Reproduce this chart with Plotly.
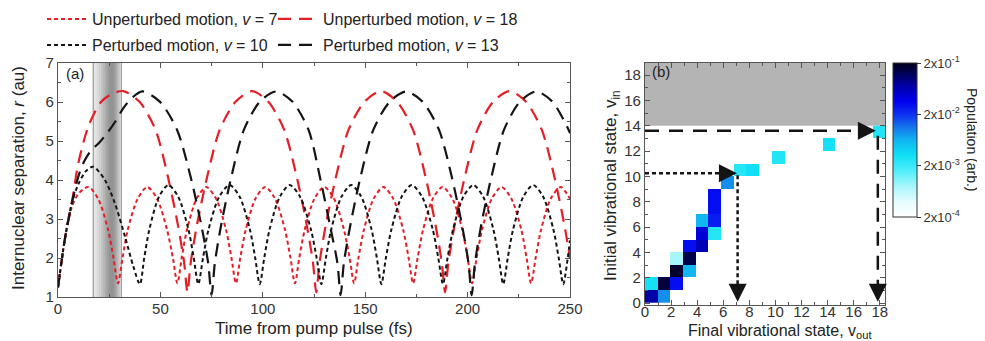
import math
import plotly.graph_objects as go

# ---------------- data: panel (a) ----------------
# Unperturbed motion, v = 7 (red short dashes)
u7_t = [0, 3.4, 6.7, 10, 14.8,
        19.6, 24.5, 27.1, 29.3, 31.5, 34.0, 38.9, 43.6,
        48.4, 53.3, 56.1, 58.3, 60.4, 62.9, 67.7, 72.4,
        77.2, 82.1, 84.7, 86.9, 89.0, 91.6, 96.4, 101.2,
        106.0, 110.9, 113.5, 115.7, 117.8, 120.4, 125.2, 130.0,
        134.8, 139.7, 142.4, 144.6, 146.7, 149.3, 154.1, 158.9,
        163.7, 168.6, 171.2, 173.4, 175.6, 178.2, 183.0, 187.8,
        192.6, 197.5, 200.0, 202.2, 204.4, 207.0, 211.8, 216.6,
        221.4, 226.3, 228.8, 231.0, 233.2, 235.8, 240.6, 245.4,
        250]
u7_r = [1.25, 2.5, 3.3, 3.65, 3.82,
        3.52, 2.71, 2.0, 1.35, 2.0, 2.71, 3.52, 3.82,
        3.52, 2.71, 2.0, 1.35, 2.0, 2.71, 3.52, 3.82,
        3.52, 2.71, 2.0, 1.35, 2.0, 2.71, 3.52, 3.82,
        3.52, 2.71, 2.0, 1.35, 2.0, 2.71, 3.52, 3.82,
        3.52, 2.71, 2.0, 1.35, 2.0, 2.71, 3.52, 3.82,
        3.52, 2.71, 2.0, 1.35, 2.0, 2.71, 3.52, 3.82,
        3.52, 2.71, 2.0, 1.35, 2.0, 2.71, 3.52, 3.82,
        3.52, 2.71, 2.0, 1.35, 2.0, 2.71, 3.52, 3.82,
        3.52]

# Unperturbed motion, v = 18 (red long dashes)
u18_t = [0, 3.4, 6.7, 10, 15, 21, 26, 31.9,
         39.7, 47.6, 53.8, 58.5, 61.6, 63.2,
         64.8, 67.9, 72.7, 79.0, 86.8, 94.7,
         102.6, 110.4, 116.7, 121.4, 124.5, 126.1,
         127.7, 130.8, 135.6, 141.9, 149.7, 157.6,
         165.5, 173.3, 179.6, 184.3, 187.4, 189.0,
         190.6, 193.7, 198.5, 204.8, 212.6, 220.5,
         228.4, 236.2, 242.5, 247.2, 250]
u18_r = [1.25, 2.5, 3.4, 4.45, 5.4, 6.0, 6.2, 6.28,
         6.01, 5.29, 4.05, 2.86, 1.88, 1.12,
         1.88, 2.86, 4.05, 5.29, 6.01, 6.28,
         6.01, 5.29, 4.05, 2.86, 1.88, 1.12,
         1.88, 2.86, 4.05, 5.29, 6.01, 6.28,
         6.01, 5.29, 4.05, 2.86, 1.88, 1.12,
         1.88, 2.86, 4.05, 5.29, 6.01, 6.28,
         6.01, 5.29, 4.05, 2.86, 2.0]

# Perturbed motion, v = 10 (black short dashes)
p10_t = [0, 3.4, 6.7, 10, 13.5, 17.2, 22.9, 27.8, 32.7, 36.8, 40,
         42.1, 44.6, 49.3, 53.9, 58.7, 63.7, 66.3, 68.5,
         70.8, 73.5, 78.7, 83.8, 88.7, 93.7, 96.3, 98.5,
         100.7, 103.3, 108.3, 113.1, 118.2, 123.5, 126.3, 128.6,
         130.8, 133.4, 138.4, 143.2, 148.1, 153.1, 155.7, 157.9,
         160.1, 162.8, 167.8, 172.7, 177.8, 183.0, 185.7, 188.0,
         190.2, 192.9, 197.9, 202.8, 207.6, 212.6, 215.2, 217.4,
         219.6, 222.2, 227.2, 232.0, 236.9, 241.9, 244.5, 246.7,
         248.9, 250]
p10_r = [1.25, 2.5, 3.4, 3.9, 4.22, 4.34, 4.0, 3.4, 2.55, 1.78, 1.33,
         2.0, 2.73, 3.57, 3.87, 3.57, 2.73, 2.0, 1.33,
         2.0, 2.73, 3.57, 3.87, 3.57, 2.73, 2.0, 1.33,
         2.0, 2.73, 3.57, 3.87, 3.57, 2.73, 2.0, 1.33,
         2.0, 2.73, 3.57, 3.87, 3.57, 2.73, 2.0, 1.33,
         2.0, 2.73, 3.57, 3.87, 3.57, 2.73, 2.0, 1.33,
         2.0, 2.73, 3.57, 3.87, 3.57, 2.73, 2.0, 1.33,
         2.0, 2.73, 3.57, 3.87, 3.57, 2.73, 2.0, 1.33,
         2.0, 2.45]

# Perturbed motion, v = 13 (black long dashes)
p13_t = [0, 3.4, 6.7, 10, 13, 16, 20, 24, 28, 32, 36, 41.2,
         49.7, 58.1, 64.9, 69.9, 73.3, 75.0,
         76.6, 79.7, 84.5, 90.8, 98.6, 106.5,
         114.4, 122.3, 128.0, 132.7, 136.4, 138.0,
         139.6, 142.8, 147.6, 154.0, 162.0, 170.0,
         178.0, 186.0, 192.4, 197.2, 200.4, 202.0,
         203.6, 206.7, 211.5, 217.8, 225.6, 233.5,
         241.4, 249.3, 250]
p13_r = [1.25, 2.5, 3.4, 4.1, 4.5, 4.75, 4.95, 5.2, 5.5, 5.85, 6.1, 6.27,
         6.01, 5.29, 4.05, 2.86, 1.88, 1.05,
         1.88, 2.86, 4.05, 5.29, 6.01, 6.27,
         6.01, 5.29, 4.05, 2.86, 1.88, 1.05,
         1.88, 2.86, 4.05, 5.29, 6.01, 6.27,
         6.01, 5.29, 4.05, 2.86, 1.88, 1.05,
         1.88, 2.86, 4.05, 5.29, 6.01, 6.27,
         6.01, 5.29, 5.2]

# ---------------- data: panel (b) ----------------
cell_vout = [0, 1, 0, 1, 2, 2, 2, 3, 3, 3, 4, 4, 4, 5, 5, 5, 5, 6, 7, 8, 10, 14, 18]
cell_vin = [0, 0, 1, 1, 1, 2, 3, 2, 3, 4, 4, 5, 6, 5, 6, 7, 8, 9, 10, 10, 11, 12, 13]
cell_pop = [7e-2, 9e-3, 3e-3, 1.5e-1, 3e-2, 1.7e-1, 8e-4, 6e-3, 1.4e-1, 3e-2,
            6e-2, 4.5e-2, 6e-3, 2.5e-3, 2.5e-2, 3e-2, 3e-2, 9e-3, 2.5e-3,
            3.2e-3, 2.6e-3, 3e-3, 2.6e-3]
cbar_vals = [2e-4, 2e-3, 2e-2, 2e-1]
cbar_text = ["2x10<sup>-4</sup>", "2x10<sup>-3</sup>", "2x10<sup>-2</sup>", "2x10<sup>-1</sup>"]

# ---------------- styling ----------------
W, H = 985, 341
OFF = 8          # page body margin of the html page
FONT = "Liberation Sans, Arial, sans-serif"
RED = "rgb(228,30,38)"
BLK = "rgb(20,20,20)"
AX = "#555555"
TXT = "#222222"
SHORT = "4px,3px"
LONG = "13px,8px"
X_CELL = 18.5 / 19.0   # cell width in axis units of panel (b)

def px_x(p):
    return (p - OFF) / W

def px_y(p):
    return 1 - (p - OFF) / H

fig = go.Figure()

fig.add_trace(go.Scatter(x=u7_t, y=u7_r, mode="lines", name="Unperturbed motion, <i>v</i> = 7",
                         line=dict(color=RED, width=2, dash=SHORT, shape="spline", smoothing=0.8),
                         legend="legend", xaxis="x", yaxis="y"))
fig.add_trace(go.Scatter(x=u18_t, y=u18_r, mode="lines", name="Unperturbed motion, <i>v</i> = 18",
                         line=dict(color=RED, width=2.2, dash=LONG, shape="spline", smoothing=0.8),
                         legend="legend2", xaxis="x", yaxis="y"))
fig.add_trace(go.Scatter(x=p10_t, y=p10_r, mode="lines", name="Perturbed motion, <i>v</i> = 10",
                         line=dict(color=BLK, width=2, dash=SHORT, shape="spline", smoothing=0.8),
                         legend="legend3", xaxis="x", yaxis="y"))
fig.add_trace(go.Scatter(x=p13_t, y=p13_r, mode="lines", name="Perturbed motion, <i>v</i> = 13",
                         line=dict(color=BLK, width=2.2, dash=LONG, shape="spline", smoothing=0.8),
                         legend="legend4", xaxis="x", yaxis="y"))

# heatmap matrix
n_in = max(cell_vin) + 1
n_out = max(cell_vout) + 1
z = [[None] * n_out for _ in range(n_in)]
for vo, vi, p in zip(cell_vout, cell_vin, cell_pop):
    z[vi][vo] = math.log10(p)
x_edges = [i * X_CELL for i in range(n_out + 1)]
y_edges = list(range(n_in + 1))

cscale = [[0.0, "#ffffff"], [0.1, "#e4fcfe"], [0.2, "#a8f6fc"], [0.3, "#50eefa"],
          [0.4, "#10e0f6"], [0.5, "#10b4f0"], [0.58, "#1478ec"], [0.66, "#1034f0"],
          [0.75, "#0000f0"], [0.85, "#0000a8"], [0.93, "#00005a"], [1.0, "#000018"]]

fig.add_trace(go.Heatmap(
    z=z, x=x_edges, y=y_edges, xaxis="x2", yaxis="y2",
    zmin=math.log10(cbar_vals[0]), zmax=math.log10(cbar_vals[-1]),
    colorscale=cscale, hoverongaps=False, showscale=True,
    colorbar=dict(xref="paper", yref="paper",
                  x=px_x(893), xanchor="left", y=px_y(63), yanchor="top",
                  len=154, lenmode="pixels", thickness=24, thicknessmode="pixels",
                  xpad=0, ypad=0, outlinewidth=1, outlinecolor="#333",
                  tickvals=[math.log10(v) for v in cbar_vals], ticktext=cbar_text,
                  ticks="outside", ticklen=4, tickcolor="#333",
                  tickfont=dict(family=FONT, size=13, color="#333"))))

shapes = []
# shaded pump-pulse band (gradient built from overlapping strips)
band_gray = [232, 226, 218, 208, 196, 182, 168, 156, 148, 146, 154, 170, 192, 212]
band_t0 = 17.0
for i, g in enumerate(band_gray):
    shapes.append(dict(type="rect", xref="x", yref="y", x0=band_t0 + i, x1=min(band_t0 + i + 1.6, 31),
                       y0=1, y1=7, fillcolor=f"rgb({g},{g},{g})", line=dict(width=0), layer="below"))
shapes.append(dict(type="line", xref="x", yref="y", x0=17.2, x1=17.2, y0=1, y1=7,
                   line=dict(color="#8a8a8a", width=1), layer="below"))
shapes.append(dict(type="line", xref="x", yref="y", x0=31, x1=31, y0=1, y1=7,
                   line=dict(color="#a0a0a0", width=1), layer="below"))
# grey region in panel (b)
shapes.append(dict(type="rect", xref="x2", yref="y2", x0=0, x1=18.4, y0=14, y1=18.95,
                   fillcolor="#b4b4b4", line=dict(width=0), layer="below"))
# arrows (shafts)
shapes.append(dict(type="line", xref="x2", yref="y2", x0=0, x1=6.2, y0=10.25, y1=10.25,
                   line=dict(color=BLK, width=2.5, dash=SHORT)))
shapes.append(dict(type="line", xref="x2", yref="y2", x0=7.1, x1=7.1, y0=10.1, y1=1.2,
                   line=dict(color=BLK, width=2.5, dash=SHORT)))
shapes.append(dict(type="line", xref="x2", yref="y2", x0=0, x1=16.4, y0=13.6, y1=13.6,
                   line=dict(color=BLK, width=2.5, dash="14px,10px")))
shapes.append(dict(type="line", xref="x2", yref="y2", x0=17.85, x1=17.85, y0=13.2, y1=1.4,
                   line=dict(color=BLK, width=2.5, dash="14px,10px")))

TITLE_FONT = dict(family=FONT, size=17, color=TXT)

def label(text, xp, yp, angle=0, font=TITLE_FONT):
    return dict(text=text, x=px_x(xp), y=px_y(yp), xref="paper", yref="paper",
                xanchor="center", yanchor="middle", textangle=angle, showarrow=False, font=font)

annotations = [
    dict(text="(a)", x=3, y=6.72, xref="x", yref="y", xanchor="left", yanchor="middle",
         showarrow=False, font=dict(family=FONT, size=15, color=TXT)),
    dict(text="(b)", x=0.35, y=18.3, xref="x2", yref="y2", xanchor="left", yanchor="middle",
         showarrow=False, font=dict(family=FONT, size=15, color=TXT)),
    label("Population (arb.)", 972, 140, 90, dict(family=FONT, size=14, color=TXT)),
    label("Time from pump pulse (fs)", 314, 328),
    label("Internuclear separation, <i>r</i> (au)", 18, 178, -90),
    label("Final vibrational state, v<sub>out</sub>", 780, 331, 0, dict(family=FONT, size=16, color=TXT)),
    label("Initial vibrational state, v<sub>in</sub>", 612, 186, -90),
]
for (xt, yt, xa, ya) in [(7.05, 10.25, 6.0, 10.25), (7.1, 0.1, 7.1, 1.4),
                         (17.7, 13.6, 16.3, 13.6), (17.85, 0.1, 17.85, 1.5)]:
    annotations.append(dict(x=xt, y=yt, ax=xa, ay=ya, xref="x2", yref="y2", axref="x2", ayref="y2",
                            text="", showarrow=True, arrowhead=2, arrowsize=1.8, arrowwidth=2,
                            arrowcolor=BLK, standoff=0, startstandoff=0))

axis_common = dict(showline=True, linecolor=AX, linewidth=1.2, mirror="allticks",
                   ticks="inside", ticklen=5, tickcolor=AX, showgrid=False, zeroline=False,
                   automargin=False, tickfont=dict(family=FONT, size=15, color="#333"))

def legend_box(xp, yp):
    return dict(xref="paper", yref="paper", x=px_x(xp), y=px_y(yp),
                xanchor="left", yanchor="top", bgcolor="rgba(0,0,0,0)",
                font=dict(family=FONT, size=16, color=TXT), itemwidth=40, tracegroupgap=0)

fig.update_layout(
    width=W, height=H, margin=dict(l=0, r=0, t=0, b=0, autoexpand=False),
    paper_bgcolor="white", plot_bgcolor="white",
    font=dict(family=FONT, color=TXT),
    xaxis=dict(domain=[px_x(58), px_x(570)], range=[0, 250], dtick=50, anchor="y",
               ticklabelstandoff=-2,
               minor=dict(dtick=25, ticks="inside", ticklen=3, tickcolor=AX), **axis_common),
    yaxis=dict(domain=[px_y(297), px_y(63)], range=[1, 7], dtick=1, anchor="x",
               minor=dict(dtick=0.5, ticks="inside", ticklen=3, tickcolor=AX), **axis_common),
    xaxis2=dict(domain=[px_x(645), px_x(885)], range=[0, 18.4], dtick=2, tick0=0, anchor="y2",
                ticklabelstandoff=-7,
                minor=dict(dtick=1, ticks="inside", ticklen=3, tickcolor=AX), **axis_common),
    yaxis2=dict(domain=[px_y(305), px_y(63)], range=[-0.15, 18.95], dtick=2, tick0=0, anchor="x2",
                minor=dict(dtick=1, ticks="inside", ticklen=3, tickcolor=AX), **axis_common),
    legend=legend_box(42, 2),
    legend2=legend_box(273, 2),
    legend3=legend_box(42, 28),
    legend4=legend_box(273, 28),
    shapes=shapes, annotations=annotations, showlegend=True,
)

fig.write_html("out.html")
